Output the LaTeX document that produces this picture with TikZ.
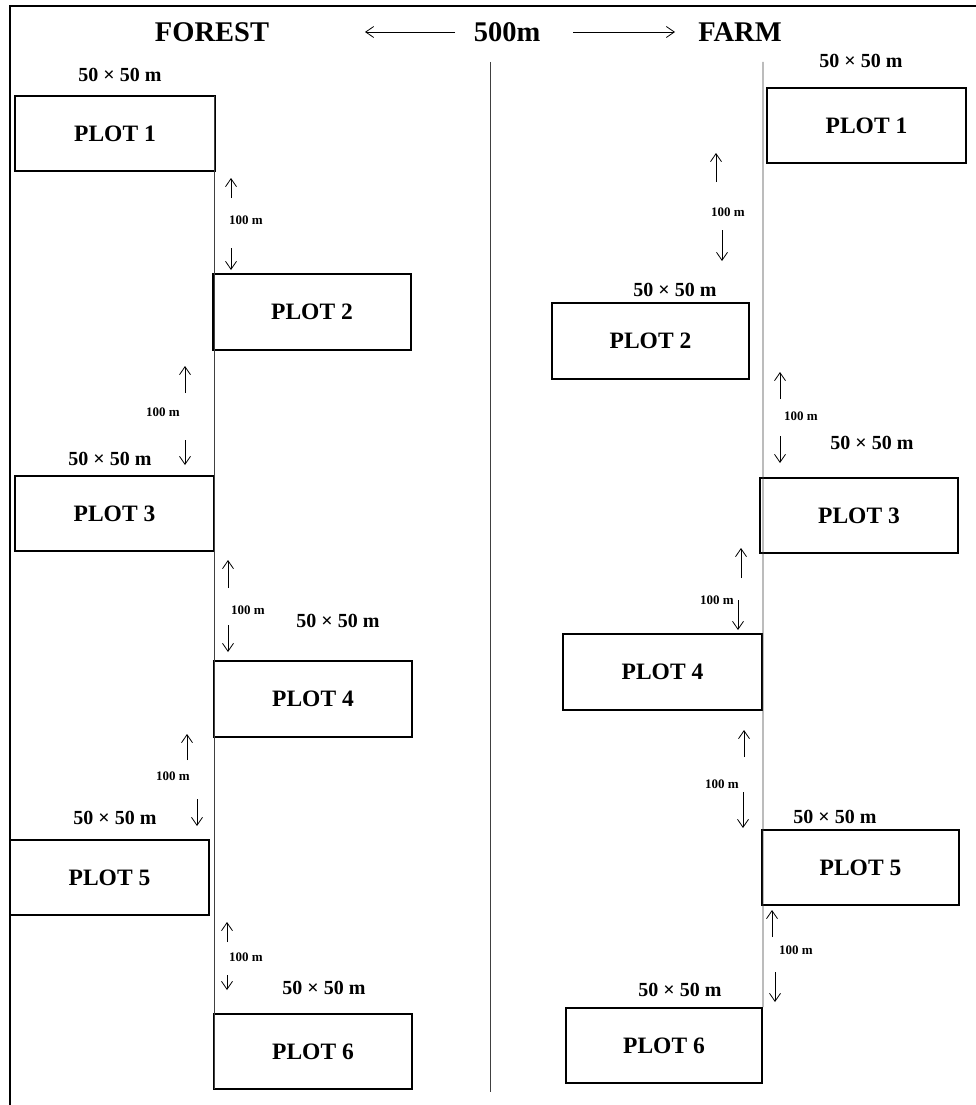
\documentclass[tikz,border=0pt]{standalone}
\usepackage{fontspec}
\setmainfont{Liberation Serif}
\usetikzlibrary{arrows.meta}
\tikzset{
  plotbox/.style={draw, line width=1.8pt, minimum width=199pt, minimum height=75pt, inner sep=0pt,
    font=\fontsize{23.5}{23.5}\selectfont\bfseries},
  sizelbl/.style={inner sep=0pt, font=\fontsize{20}{20}\selectfont\bfseries},
  distlbl/.style={inner sep=0pt, font=\fontsize{13}{13}\selectfont\bfseries},
  headlbl/.style={inner sep=0pt, font=\fontsize{28.5}{28.5}\selectfont\bfseries},
  dimarrow/.style={line width=0.8pt, -{Straight Barb[length=8pt,width=11pt,line width=0.8pt]}},
  thinline/.style={line width=0.8pt, draw=black!75},
  frameline/.style={line width=2.2pt}
}
\begin{document}
\begin{tikzpicture}[x=1pt,y=-1pt]
\useasboundingbox (0,0) rectangle (976,1105);
% frame
\coordinate (fr1) at (10,6);
\coordinate (fr2) at (976,6);
\coordinate (fr3) at (10,1105);
\draw[frameline] (fr2) -- (fr1) -- (fr3);

% header
\node[headlbl] (forest) at (212,32) {FOREST};
\node[headlbl] (dist) at (507,32) {500m};
\node[headlbl] (farm) at (740,32) {FARM};
\coordinate (hl) at (365,32);
\coordinate (hr) at (675,32);
\draw[dimarrow] (455,32) -- (hl);
\draw[dimarrow] (573,32) -- (hr);

% forest plots
\node[plotbox, minimum width=200pt] (f1) at (115,133.5) {PLOT 1};
\node[plotbox, minimum width=198pt, minimum height=76pt] (f2) at (312,312) {PLOT 2};
\node[plotbox] (f3) at (114.5,513.5) {PLOT 3};
\node[plotbox, minimum width=198pt, minimum height=76pt] (f4) at (313,699) {PLOT 4};
\node[plotbox] (f5) at (109.5,877.5) {PLOT 5};
\node[plotbox, minimum width=198pt] (f6) at (313,1051.5) {PLOT 6};

% farm plots
\node[plotbox] (m1) at (866.5,125.5) {PLOT 1};
\node[plotbox, minimum width=197pt, minimum height=76pt] (m2) at (650.5,341) {PLOT 2};
\node[plotbox, minimum width=198pt] (m3) at (859,515.5) {PLOT 3};
\node[plotbox, minimum height=76pt] (m4) at (662.5,672) {PLOT 4};
\node[plotbox, minimum width=197pt] (m5) at (860.5,867.5) {PLOT 5};
\node[plotbox, minimum width=196pt] (m6) at (664,1045.5) {PLOT 6};

% vertical lines
\coordinate (ftop) at (214,96);
\coordinate (fbot) at (214,1089);
\draw[thinline] (ftop) -- (fbot);
\coordinate (ctop) at (490,62);
\coordinate (cbot) at (490,1092);
\draw[thinline] (ctop) -- (cbot);
\coordinate (mtop) at (763,62);
\draw[thinline] (mtop) -- (m6.north east);

% size labels forest
\node[sizelbl] (fs1) at (120,75) {50 × 50 m};
\node[sizelbl] (fs3) at (110,459) {50 × 50 m};
\node[sizelbl] (fs4) at (338,621) {50 × 50 m};
\node[sizelbl] (fs5) at (115,818) {50 × 50 m};
\node[sizelbl] (fs6) at (324,988) {50 × 50 m};
% size labels farm
\node[sizelbl] (ms1) at (861,61) {50 × 50 m};
\node[sizelbl] (ms2) at (675,290) {50 × 50 m};
\node[sizelbl] (ms3) at (872,443) {50 × 50 m};
\node[sizelbl] (ms5) at (835,817) {50 × 50 m};
\node[sizelbl] (ms6) at (680,990) {50 × 50 m};

% distance labels forest
\node[distlbl] (fd1) at (246,220) {100 m};
\node[distlbl] (fd2) at (163,412) {100 m};
\node[distlbl] (fd3) at (248,610) {100 m};
\node[distlbl] (fd4) at (173,776) {100 m};
\node[distlbl] (fd5) at (246,957) {100 m};
% distance labels farm
\node[distlbl] (md1) at (728,212) {100 m};
\node[distlbl] (md2) at (801,416) {100 m};
\node[distlbl] (md3) at (717,600) {100 m};
\node[distlbl] (md4) at (722,784) {100 m};
\node[distlbl] (md5) at (796,950) {100 m};

% forest arrows
\draw[dimarrow] (231,198) -- (231,178);
\draw[dimarrow] (231,248) -- (231,270);
\draw[dimarrow] (185,393) -- (185,366);
\draw[dimarrow] (185,440) -- (185,465);
\draw[dimarrow] (228,588) -- (228,560);
\draw[dimarrow] (228,625) -- (228,652);
\draw[dimarrow] (187,760) -- (187,734);
\draw[dimarrow] (197,799) -- (197,826);
\draw[dimarrow] (227,942) -- (227,922);
\draw[dimarrow] (227,975) -- (227,990);
% farm arrows
\draw[dimarrow] (716,182) -- (716,153);
\draw[dimarrow] (722,230) -- (722,261);
\draw[dimarrow] (780,399) -- (780,372);
\draw[dimarrow] (780,436) -- (780,463);
\draw[dimarrow] (741,578) -- (741,548);
\draw[dimarrow] (738,600) -- (738,630);
\draw[dimarrow] (744,757) -- (744,730);
\draw[dimarrow] (743,792) -- (743,828);
\draw[dimarrow] (772,937) -- (772,910);
\draw[dimarrow] (775,972) -- (775,1002);
\end{tikzpicture}
\end{document}
